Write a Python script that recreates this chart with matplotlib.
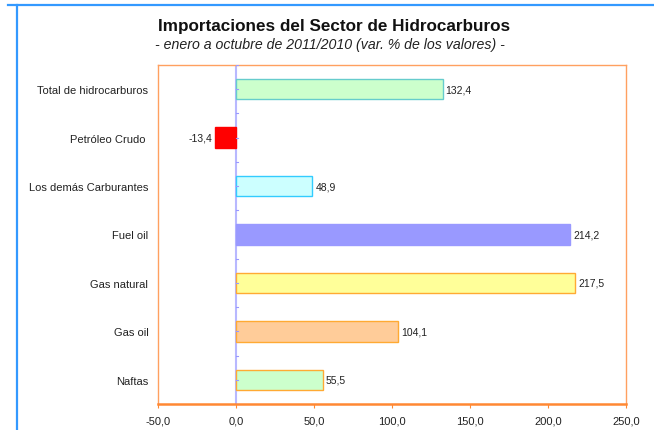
import matplotlib.pyplot as plt
from matplotlib.lines import Line2D

plt.rcParams["font.family"] = ["Liberation Sans", "DejaVu Sans"]

categories = [
    "Total de hidrocarburos",
    "Petróleo Crudo ",
    "Los demás Carburantes",
    "Fuel oil",
    "Gas natural",
    "Gas oil",
    "Naftas",
]
values = [132.4, -13.4, 48.9, 214.2, 217.5, 104.1, 55.5]
face_colors = ["#ccffcc", "#ff0000", "#ccffff", "#9999ff", "#ffff99", "#ffcc99", "#ccffcc"]
edge_colors = ["#66cccc", "#ff0000", "#33ccff", "#9999ff", "#ffaa33", "#ffaa33", "#ffaa33"]
x_ticks = [-50, 0, 50, 100, 150, 200, 250]

fig = plt.figure(figsize=(6.54, 4.31), dpi=100)
ax = fig.add_axes([158 / 654, 1 - 405 / 431, 468 / 654, 339 / 431])

ypos = list(range(len(categories)))
ax.barh(ypos, values, height=0.42, color=face_colors, edgecolor=edge_colors,
        linewidth=1.0, zorder=3)

for y, v in zip(ypos, values):
    txt = f"{v:.1f}".replace(".", ",")
    if v >= 0:
        ax.text(v + 2, y, txt, va="center", ha="left", fontsize=7.5, color="#222222")
    else:
        ax.text(v - 2, y, txt, va="center", ha="right", fontsize=7.5, color="#222222")

ax.set_xlim(-50, 250)
ax.set_ylim(len(categories) - 0.5, -0.5)
ax.set_xticks(x_ticks)
ax.set_xticklabels([f"{t:.1f}".replace(".", ",") for t in x_ticks], fontsize=8, color="#222222")
ax.set_yticks(ypos)
ax.set_yticklabels(categories, fontsize=8, color="#222222")
ax.tick_params(axis="y", length=0, pad=7)
ax.tick_params(axis="x", length=3, color="#ff8833", pad=5)

# zero line with small ticks
ax.axvline(0, color="#b8b8ff", linewidth=1.5, zorder=2)
for k in range(2 * len(categories) + 1):
    yy = -0.5 + k * 0.5
    ax.plot([0, 1.5], [yy, yy], color="#9999ff", linewidth=0.8, zorder=4)

for side in ["left", "top", "right"]:
    ax.spines[side].set_color("#ffa060")
    ax.spines[side].set_linewidth(1.0)
ax.spines["bottom"].set_color("#ff8833")
ax.spines["bottom"].set_linewidth(1.8)

fig.text(334 / 654, 1 - 26 / 431, "Importaciones del Sector de Hidrocarburos",
         ha="center", va="center", fontsize=12.3, fontweight="bold", color="#111111")
fig.text(330 / 654, 1 - 45 / 431, "- enero a octubre de 2011/2010 (var. % de los valores) -",
         ha="center", va="center", fontsize=10.2, style="italic", color="#222222")

# blue frame lines
fig.add_artist(Line2D([8 / 654, 1], [1 - 6 / 431, 1 - 6 / 431], color="#3399ff", linewidth=1.6))
fig.add_artist(Line2D([17 / 654, 17 / 654], [0, 1 - 6 / 431], color="#3399ff", linewidth=1.6))

fig.savefig("out.png", dpi=100)
